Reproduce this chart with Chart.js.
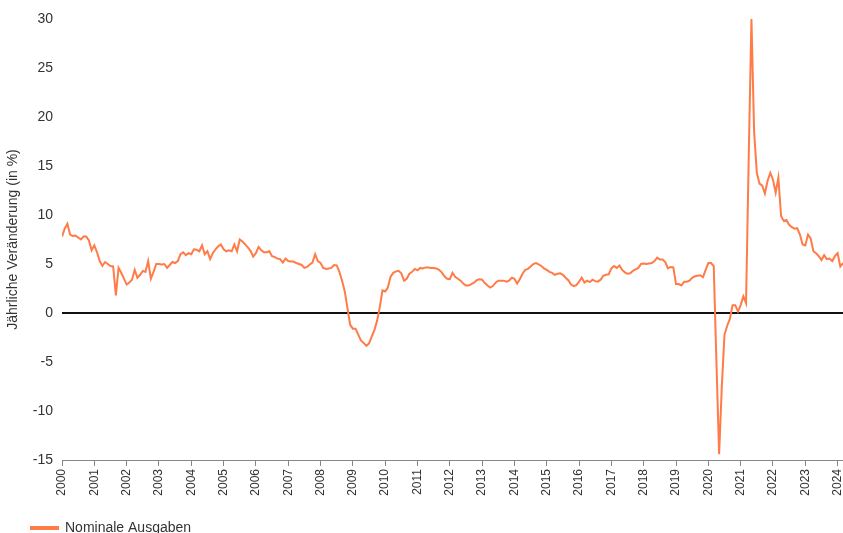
<!DOCTYPE html>
<html lang="de">
<head>
<meta charset="utf-8">
<title>Nominale Ausgaben</title>
<script src="https://cdn.jsdelivr.net/npm/chart.js@4.4.1/dist/chart.umd.min.js"></script>
<style>
  html, body { margin: 0; padding: 0; background: #fff; }
  #wrap { width: 843px; height: 533px; }
</style>
</head>
<body>
<div id="wrap"><canvas id="grafico" width="843" height="533"></canvas></div>
<script>
// Jahre fuer die x-Achse
const jahre = ['2000','2001','2002','2003','2004','2005','2006','2007','2008','2009','2010','2011','2012',
               '2013','2014','2015','2016','2017','2018','2019','2020','2021','2022','2023','2024']
const startJahr = 2000
const serieName = 'Nominale Ausgaben'
const achsenTitel = 'Jährliche Veränderung (in %)'

// Monatswerte in %, Jan 2000 bis Maerz 2024
const nominaleAusgaben = [
  7.8, 8.6, 9.1, 8.0, 7.85, 7.9, 7.7, 7.5, 7.8, 7.8, 7.4, 6.4,          // 2000
  6.9, 6.2, 5.3, 4.8, 5.2, 5.0, 4.8, 4.75, 1.8, 4.6, 4.1, 3.5,         // 2001
  2.9, 3.1, 3.4, 4.4, 3.6, 3.9, 4.3, 4.2, 5.3, 3.5, 4.2, 5.0,          // 2002
  5.0, 4.95, 5.0, 4.6, 4.9, 5.2, 5.1, 5.3, 6.0, 6.2, 5.9, 6.1,         // 2003
  6.0, 6.5, 6.45, 6.3, 6.9, 6.0, 6.3, 5.5, 6.1, 6.5, 6.8, 7.0,         // 2004
  6.5, 6.3, 6.4, 6.3, 7.0, 6.3, 7.5, 7.3, 7.0, 6.7, 6.35, 5.75,        // 2005
  6.1, 6.75, 6.4, 6.2, 6.2, 6.3, 5.8, 5.7, 5.55, 5.5, 5.15, 5.55,      // 2006
  5.3, 5.25, 5.25, 5.1, 5.0, 4.9, 4.6, 4.7, 4.95, 5.15, 6.0, 5.3,      // 2007
  5.1, 4.6, 4.5, 4.55, 4.6, 4.9, 4.85, 4.2, 3.3, 2.2, 0.5, -1.2,       // 2008
  -1.6, -1.6, -2.2, -2.8, -3.05, -3.35, -3.1, -2.4, -1.75, -0.8, 0.6, 2.3, // 2009
  2.2, 2.6, 3.7, 4.1, 4.25, 4.3, 4.05, 3.3, 3.5, 4.0, 4.2, 4.5,        // 2010
  4.35, 4.6, 4.55, 4.65, 4.65, 4.6, 4.6, 4.55, 4.4, 4.15, 3.75, 3.5,   // 2011
  3.45, 4.1, 3.7, 3.5, 3.3, 3.0, 2.8, 2.8, 2.95, 3.1, 3.35, 3.45,      // 2012
  3.4, 3.05, 2.8, 2.6, 2.75, 3.1, 3.3, 3.3, 3.3, 3.2, 3.3, 3.6,        // 2013
  3.5, 3.0, 3.45, 4.0, 4.4, 4.5, 4.75, 5.0, 5.1, 4.95, 4.8, 4.55,      // 2014
  4.4, 4.2, 4.1, 3.9, 4.0, 4.05, 3.9, 3.6, 3.35, 2.9, 2.75, 2.85,      // 2015
  3.2, 3.6, 3.1, 3.3, 3.15, 3.4, 3.25, 3.2, 3.4, 3.8, 3.9, 3.95,       // 2016
  4.55, 4.8, 4.6, 4.85, 4.4, 4.15, 4.0, 4.05, 4.3, 4.45, 4.6, 5.0,     // 2017
  5.05, 5.0, 5.05, 5.1, 5.3, 5.65, 5.45, 5.45, 5.2, 4.55, 4.7, 4.65,   // 2018
  2.95, 2.95, 2.8, 3.2, 3.2, 3.3, 3.6, 3.75, 3.8, 3.85, 3.65, 4.4,     // 2019
  5.1, 5.1, 4.8, -5.0, -14.4, -7.5, -2.2, -1.3, -0.6, 0.8, 0.8, 0.15,  // 2020
  0.8, 1.7, 1.0, 16.0, 30.0, 18.5, 14.3, 13.2, 13.0, 12.2, 13.5, 14.3, // 2021
  13.6, 12.3, 13.8, 9.9, 9.4, 9.5, 9.0, 8.75, 8.6, 8.65, 8.0, 7.0,     // 2022
  6.9, 8.0, 7.6, 6.3, 6.1, 5.8, 5.4, 5.9, 5.5, 5.55, 5.3, 5.8,         // 2023
  6.1, 4.75, 5.1                                                       // 2024
]

const yTicks = [-15, -10, -5, 0, 5, 10, 15, 20, 25, 30]

Chart.defaults.font.family = "'Liberation Sans', Arial, sans-serif"
Chart.defaults.color = '#333'

const orange = '#ff7b47'

// Punkte aus den Monatswerten aufbauen
const punkte = nominaleAusgaben.map((v, i) => ({ x: startJahr + i / 12, y: v }))

// Legende nach rechts unten schieben
const legendeVerschieben = {
    id: 'legendeVerschieben',
    beforeDraw(chart) {
        const lg = chart.legend
        if (!lg._verschoben) {
            lg.left += 25
            lg.right += 25
            lg.top += 12
            lg.bottom += 12
            lg._verschoben = true
        }
    }
}

const ctx = document.getElementById('grafico').getContext('2d')

const data = {
    datasets: [{
        label: serieName,
        data: punkte,
        borderColor: orange,
        backgroundColor: orange,
        borderWidth: 2,
        pointRadius: 0,
        tension: 0
    }]
}

const options = {
    responsive: false,
    animation: false,
    layout: { padding: { top: 19, left: 0, right: 0, bottom: 0 } },
    scales: {
        x: {
            type: 'linear',
            min: startJahr,
            max: startJahr + (nominaleAusgaben.length - 1) / 12,
            afterBuildTicks: s => { s.ticks = jahre.map(j => ({ value: Number(j) })) },
            afterFit: s => { s.height = 43; s.paddingRight = 0; s.paddingLeft = 0 },
            ticks: {
                callback: v => String(v),
                minRotation: 90,
                maxRotation: 90,
                autoSkip: false,
                padding: 3,
                font: { size: 12 }
            },
            grid: {
                drawOnChartArea: false,
                drawTicks: true,
                tickLength: 6,
                color: '#888'
            },
            border: { display: true, color: '#888', width: 1 }
        },
        y: {
            min: -15,
            max: 30,
            afterBuildTicks: s => { s.ticks = yTicks.map(v => ({ value: v })) },
            afterFit: s => { s.width = 62 },
            ticks: { padding: 9, font: { size: 14 } },
            grid: {
                drawTicks: false,
                color: c => c.tick && c.tick.value === 0 ? '#111' : 'rgba(0,0,0,0)',
                lineWidth: c => c.tick && c.tick.value === 0 ? 2 : 0
            },
            border: { display: false },
            title: {
                display: true,
                text: achsenTitel,
                font: { size: 14 },
                color: '#333',
                padding: { top: 5, bottom: 0 }
            }
        }
    },
    plugins: {
        legend: {
            position: 'bottom',
            align: 'start',
            labels: {
                boxWidth: 27,
                boxHeight: 2,
                padding: 6,
                font: { size: 14 },
                color: '#333'
            }
        },
        tooltip: { enabled: false }
    }
}

new Chart(ctx, { type: 'line', data, options, plugins: [legendeVerschieben] })
</script>
</body>
</html>
